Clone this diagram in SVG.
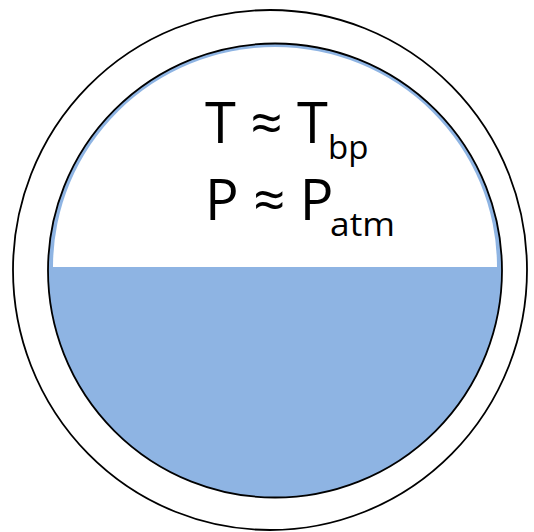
<svg xmlns="http://www.w3.org/2000/svg" width="534" height="532" viewBox="0 0 534 532">
  <style>
    .edge { fill: none; stroke: #000; stroke-width: 1.8; }
    .lbl { font-family: "Open Sans", "Liberation Sans", sans-serif; fill: #000; }
    .main { font-size: 56px; }
    .sub { font-size: 33px; }
  </style>
  <rect width="534" height="532" fill="#fff"/>
  <g id="outer-vessel">
    <ellipse cx="270" cy="270" rx="257" ry="260" class="edge"/>
  </g>
  <g id="inner-vessel">
    <circle cx="275" cy="270.5" r="227" fill="#8EB4E3"/>
    <path d="M53,267 A222,220 0 0 1 497,267 Z" fill="#fff"/>
    <circle cx="275" cy="270.5" r="227" class="edge"/>
  </g>
  <g id="labels">
    <text class="lbl main" x="205" y="143">T ≈ T<tspan class="sub" x="328" y="159">bp</tspan></text>
    <text class="lbl main" x="205" y="220">P ≈ P<tspan class="sub" x="330" y="236" textLength="65" lengthAdjust="spacingAndGlyphs">atm</tspan></text>
  </g>
</svg>
